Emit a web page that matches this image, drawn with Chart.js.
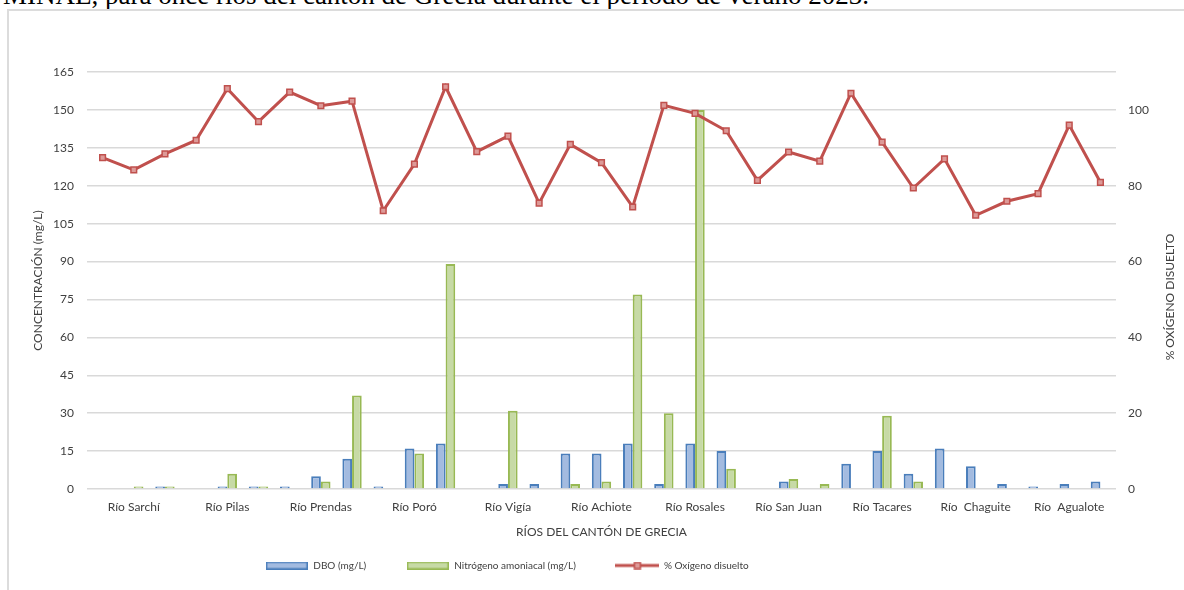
<!DOCTYPE html>
<html><head><meta charset="utf-8">
<script src="https://cdn.jsdelivr.net/npm/chart.js@4.4.1/dist/chart.umd.min.js"></script>
<style>
html,body{margin:0;padding:0;width:1184px;height:590px;overflow:hidden;background:#fff}
#caption{position:absolute;left:3px;top:-18px;font-family:"Liberation Serif","Times New Roman",serif;font-size:27px;line-height:27px;white-space:nowrap;color:#000}
#frame{position:absolute;left:7px;top:9px;width:1200px;height:600px;border-left:2px solid #dcdcdc;border-top:2px solid #dcdcdc}
#wrap{position:absolute;left:0;top:0;width:1184px;height:590px}
</style></head><body>
<div id="caption">MINAE, para once ríos del cantón de Grecia durante el período de verano 2023.</div>
<div id="frame"></div>
<div id="wrap"><canvas id="c"></canvas></div>
<script>
// ---- data ----
const xLabels = ['', 'Río Sarchí', '', '', 'Río Pilas', '', '', 'Río Prendas', '', '', 'Río Poró', '',
  '', 'Río Vigía', '', '', 'Río Achiote', '', '', 'Río Rosales', '', '', 'Río San Juan', '',
  '', 'Río Tacares', '', '', 'Río  Chaguite', '', '', 'Río  Agualote', ''];
const dbo =    [0, 0, 1,  0, 1, 1,  1, 5, 12,  1, 16, 18,  0, 2, 2,  14, 14, 18,  2, 18, 15,  0, 3, 0,  10, 15, 6,  16, 9, 2,  1, 2, 3];
const nitro =  [0, 1, 1,  0, 6, 1,  0, 3, 37,  0, 14, 89,  0, 31, 0,  2, 3, 77,  30, 150, 8,  0, 4, 2,  0, 29, 3,  0, 0, 0,  0, 0, 0];
const oxygen = [87.4, 84.2, 88.4, 92.0, 105.6, 96.9, 104.7, 101.1, 102.3, 73.4, 85.7, 106.1,
  89.0, 93.1, 75.4, 90.9, 86.1, 74.4, 101.2, 99.1, 94.5, 81.4, 88.9, 86.5,
  104.4, 91.5, 79.4, 87.1, 72.2, 75.9, 77.9, 96.0, 80.9];
const seriesNames = ['DBO (mg/L)', 'Nitrógeno amoniacal (mg/L)', '% Oxígeno disuelto'];
const leftTicks = {min: 0, max: 165, step: 15};
const rightTicks = {min: 0, max: 110, step: 20, lastShown: 100};
const titles = {x: 'RÍOS DEL CANTÓN DE GRECIA', y: 'CONCENTRACIÓN (mg/L)', y1: '% OXÍGENO DISUELTO'};

// ---- styles ----
const FONT = 'Lato, "Open Sans", sans-serif';
const TXT = '#404040';
const C = {
  dboFill: '#a3bbe0', dboLine: '#4a7ebb',
  nFill: '#c7daa6', nLine: '#98b954',
  ox: '#c0504d', oxPt: '#dd9a98', grid: '#d9d9d9'
};
Chart.defaults.font.family = FONT;
Chart.defaults.color = TXT;

function barIcon(fill, stroke) {
  const c = document.createElement('canvas'); c.width = 42; c.height = 8;
  const g = c.getContext('2d');
  g.fillStyle = fill; g.fillRect(1, 1, 40, 6);
  g.strokeStyle = stroke; g.lineWidth = 1.5; g.strokeRect(0.75, 0.75, 40.5, 6.5);
  return c;
}
function lineIcon() {
  const c = document.createElement('canvas'); c.width = 44; c.height = 8;
  const g = c.getContext('2d');
  g.strokeStyle = C.ox; g.lineWidth = 3;
  g.beginPath(); g.moveTo(0, 4); g.lineTo(44, 4); g.stroke();
  g.fillStyle = C.oxPt; g.fillRect(19, 1, 6, 6);
  g.lineWidth = 1.5; g.strokeRect(19, 1, 6, 6);
  return c;
}
const icons = [barIcon(C.dboFill, C.dboLine), barIcon(C.nFill, C.nLine), lineIcon()];

const LEGEND_CX = 507;
const legendPlace = {
  id: 'legendPlace',
  afterLayout(chart) {
    const l = chart.legend; if (!l) return;
    const s = LEGEND_CX - (l.left + l.right) / 2;
    l.left += s; l.right += s;
  }
};
const rightTitle = {
  id: 'rightTitle',
  afterDraw(chart) {
    const g = chart.ctx;
    g.save();
    g.translate(1170, 297);
    g.rotate(-Math.PI / 2);
    g.font = '12px ' + FONT;
    g.fillStyle = TXT;
    g.textAlign = 'center';
    g.textBaseline = 'middle';
    g.fillText(titles.y1, 0, 0);
    g.restore();
  }
};

new Chart(document.getElementById('c'), {
  type: 'bar',
  data: {
    labels: xLabels,
    datasets: [
      {type: 'bar', label: seriesNames[0], data: dbo, yAxisID: 'y', order: 2,
       backgroundColor: C.dboFill, borderColor: C.dboLine, borderWidth: 2,
       categoryPercentage: 0.62, barPercentage: 1},
      {type: 'bar', label: seriesNames[1], data: nitro, yAxisID: 'y', order: 2,
       backgroundColor: C.nFill, borderColor: C.nLine, borderWidth: 2,
       categoryPercentage: 0.62, barPercentage: 1},
      {type: 'line', label: seriesNames[2], data: oxygen, yAxisID: 'y1', order: 0,
       borderColor: C.ox, borderWidth: 3, tension: 0, fill: false,
       pointStyle: 'rect', pointRadius: 4, pointBackgroundColor: C.oxPt,
       pointBorderColor: C.ox, pointBorderWidth: 1.5}
    ]
  },
  options: {
    responsive: true, maintainAspectRatio: false, animation: false, events: [],
    layout: {padding: {top: 72, left: 25, right: 2, bottom: 9.5}},
    plugins: {
      tooltip: {enabled: false},
      legend: {
        position: 'bottom',
        labels: {
          usePointStyle: true, pointStyleWidth: 43, padding: 40,
          font: {size: 10}, color: TXT,
          generateLabels: (chart) => chart.data.datasets.map((ds, i) => ({
            text: ds.label, datasetIndex: i, pointStyle: icons[i],
            fillStyle: 'rgba(0,0,0,0)', strokeStyle: 'rgba(0,0,0,0)', lineWidth: 0,
            hidden: !chart.isDatasetVisible(i), fontColor: TXT
          }))
        }
      }
    },
    scales: {
      x: {
        offset: true,
        grid: {display: false, drawTicks: false},
        border: {display: false},
        ticks: {autoSkip: false, maxRotation: 0, minRotation: 0, padding: 11, font: {size: 12}},
        title: {display: true, text: titles.x, font: {size: 12}, padding: {top: 0, bottom: -19}},
        afterFit(s) { s.height = 31.5; }
      },
      y: {
        position: 'left', min: leftTicks.min, max: leftTicks.max,
        ticks: {stepSize: leftTicks.step, padding: 13, font: {size: 12}},
        grid: {color: C.grid, lineWidth: 1.5, drawTicks: false},
        border: {display: false},
        title: {display: true, text: titles.y, font: {size: 12}, padding: {top: 6, bottom: 0}},
        afterFit(s) { s.width = 62; }
      },
      y1: {
        position: 'right', min: rightTicks.min, max: rightTicks.max,
        ticks: {stepSize: rightTicks.step, padding: 12, font: {size: 12},
                callback: (v) => v <= rightTicks.lastShown ? v : ''},
        grid: {display: false, drawTicks: false},
        border: {display: false},
        title: {display: false},
        afterFit(s) { s.width = 66; }
      }
    }
  },
  plugins: [legendPlace, rightTitle]
});
</script>
</body></html>
